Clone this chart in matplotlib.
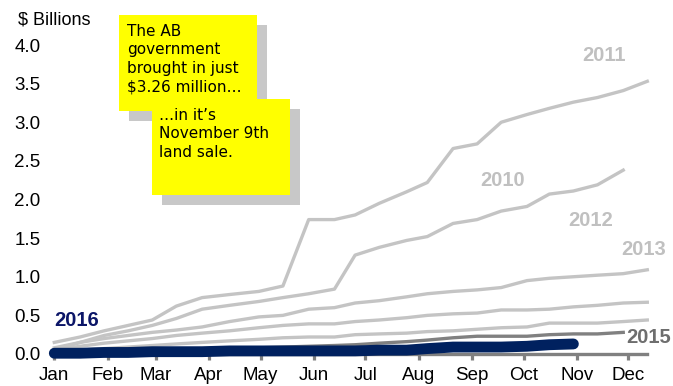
import matplotlib
matplotlib.use("Agg")
import matplotlib.pyplot as plt
from matplotlib.patches import Rectangle

plt.rcParams['font.family'] = ['Liberation Sans', 'DejaVu Sans']

# land sale dates (day of year, 0 = Jan 1), cumulative sales in $ billions
sale_days = [0, 15, 29, 43, 57, 71, 86, 102, 119, 133, 148, 163, 175,
             189, 205, 217, 232, 246, 260, 275, 288, 302, 316, 331, 345]

v2010 = [0.05, 0.15, 0.24, 0.30, 0.37, 0.46, 0.58, 0.63, 0.68, 0.73, 0.78, 0.84,
         1.28, 1.38, 1.47, 1.52, 1.69, 1.74, 1.85, 1.91, 2.07, 2.11, 2.19, 2.38]
v2011 = [0.15, 0.22, 0.30, 0.37, 0.44, 0.62, 0.73, 0.77, 0.81, 0.88, 1.74, 1.74,
         1.80, 1.95, 2.10, 2.22, 2.66, 2.72, 3.00, 3.10, 3.18, 3.26, 3.32, 3.41, 3.53]
v2012 = [0.08, 0.15, 0.20, 0.24, 0.28, 0.31, 0.35, 0.42, 0.48, 0.50, 0.58, 0.60,
         0.66, 0.69, 0.74, 0.78, 0.81, 0.83, 0.86, 0.95, 0.98, 1.00, 1.02, 1.04, 1.09]
v2013 = [0.05, 0.10, 0.14, 0.17, 0.20, 0.24, 0.27, 0.30, 0.34, 0.37, 0.39, 0.39,
         0.42, 0.44, 0.47, 0.50, 0.52, 0.53, 0.57, 0.57, 0.58, 0.61, 0.63, 0.66, 0.67]
v2014 = [0.02, 0.05, 0.07, 0.09, 0.11, 0.13, 0.15, 0.17, 0.19, 0.21, 0.22, 0.22,
         0.25, 0.26, 0.27, 0.29, 0.30, 0.32, 0.34, 0.35, 0.40, 0.40, 0.40, 0.42, 0.44]
v2015 = [0.00, 0.01, 0.02, 0.03, 0.04, 0.05, 0.06, 0.07, 0.08, 0.09, 0.10, 0.11,
         0.12, 0.14, 0.16, 0.18, 0.21, 0.23, 0.23, 0.23, 0.25, 0.26, 0.26, 0.28]
v2016 = [0.01, 0.01, 0.02, 0.02, 0.03, 0.03, 0.03, 0.04, 0.04, 0.04, 0.04, 0.04,
         0.04, 0.05, 0.05, 0.07, 0.09, 0.09, 0.09, 0.10, 0.12, 0.13]

month_starts = [0, 31, 59, 90, 120, 151, 181, 212, 243, 273, 304, 334]
month_labels = ['Jan', 'Feb', 'Mar', 'Apr', 'May', 'Jun',
                'Jul', 'Aug', 'Sep', 'Oct', 'Nov', 'Dec']
y_ticks = [0.0, 0.5, 1.0, 1.5, 2.0, 2.5, 3.0, 3.5, 4.0]

LIGHT = '#c4c4c4'
DARK = '#808080'
NAVY = '#00215f'

W, H = 673, 386
fig = plt.figure(figsize=(W / 100, H / 100), dpi=100)
ax = fig.add_axes([54.3 / W, 32 / H, 593 / W, 309 / H])

for vals in [v2010, v2011, v2012, v2013, v2014]:
    ax.plot(sale_days[:len(vals)], vals, color=LIGHT, lw=2.4,
            clip_on=False, zorder=2)
ax.plot(sale_days[:len(v2015)], v2015, color=DARK, lw=2.4, clip_on=False, zorder=2.6)
ax.plot(sale_days[:len(v2016)], v2016, color=NAVY, lw=7.8,
        solid_capstyle='round', clip_on=False, zorder=3)

ax.set_xlim(0, 345)
ax.set_ylim(0, 4.0)
for s in ['top', 'right', 'left']:
    ax.spines[s].set_visible(False)
ax.spines['bottom'].set_color(DARK)
ax.spines['bottom'].set_linewidth(2.4)

ax.set_xticks(month_starts)
ax.set_xticklabels(month_labels)
ax.set_yticks(y_ticks)
ax.set_yticklabels([f'{v:.1f}' for v in y_ticks])
ax.tick_params(axis='x', length=4.5, width=2.3, color=DARK, pad=4.5, labelsize=13.5)
ax.tick_params(axis='y', length=0, pad=10, labelsize=13.5)

fig.text(18 / W, 1 - 20 / H, '\\$ Billions', fontsize=13, ha='left', va='center')

# series labels
lbl = dict(fontsize=14.5, fontweight='bold', ha='center', va='center')
ax.text(320, 3.86, '2011', color='#c0c0c0', **lbl)
ax.text(261, 2.25, '2010', color='#c0c0c0', **lbl)
ax.text(312, 1.73, '2012', color='#c0c0c0', **lbl)
ax.text(343, 1.35, '2013', color='#c0c0c0', **lbl)
ax.text(346, 0.22, '2015', color='#6e6e6e', clip_on=False, **lbl)
ax.text(13, 0.43, '2016', color='#0c1668', **lbl)


# sticky notes with drop shadow, boxes given in pixels from top-left
def note(x0, y0, x1, y1, text, tx, ty):
    for dx, c in [(10, '#c8c8c8'), (0, '#ffff00')]:
        fig.patches.append(Rectangle(((x0 + dx) / W, 1 - (y1 + dx) / H),
                                     (x1 - x0) / W, (y1 - y0) / H,
                                     transform=fig.transFigure,
                                     facecolor=c, edgecolor='none', zorder=5))
    fig.text(tx / W, 1 - ty / H, text, fontsize=11, family='DejaVu Sans',
             ha='left', va='top', linespacing=1.28, zorder=6)


note(119.3, 15, 256.7, 110.7,
     'The AB\ngovernment\nbrought in just\n\\$3.26 million\u2026', 127, 24)
note(151.7, 99, 290, 195, '\u2026in it\u2019s\nNovember 9th\nland sale.', 159, 108)

fig.savefig('out.png', dpi=100)
